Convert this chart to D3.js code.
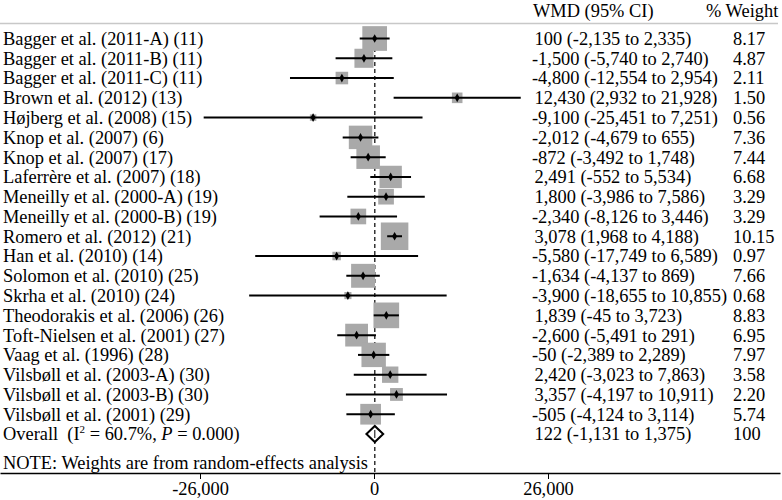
<!DOCTYPE html>
<html><head><meta charset="utf-8">
<script src="https://cdn.jsdelivr.net/npm/d3@7"></script>
<style>
html,body{margin:0;padding:0;background:#fff;}
svg text{font-family:"Liberation Serif","Times New Roman",serif;font-size:18.4px;fill:#000;}
</style></head>
<body><svg id="c" width="782" height="500"></svg>
<script>
const studies = ["Bagger et al. (2011-A) (11)","Bagger et al. (2011-B) (11)","Bagger et al. (2011-C) (11)","Brown et al. (2012) (13)","Højberg et al. (2008) (15)","Knop et al. (2007) (6)","Knop et al. (2007) (17)","Laferrère et al. (2007) (18)","Meneilly et al. (2000-A) (19)","Meneilly et al. (2000-B) (19)","Romero et al. (2012) (21)","Han et al. (2010) (14)","Solomon et al. (2010) (25)","Skrha et al. (2010) (24)","Theodorakis et al. (2006) (26)","Toft-Nielsen et al. (2001) (27)","Vaag et al. (1996) (28)","Vilsbøll et al. (2003-A) (30)","Vilsbøll et al. (2003-B) (30)","Vilsbøll et al. (2001) (29)"];
const wmd   = [100,-1500,-4800,12430,-9100,-2012,-872,2491,1800,-2340,3078,-5580,-1634,-3900,1839,-2600,-50,2420,3357,-505];
const lower = [-2135,-5740,-12554,2932,-25451,-4679,-3492,-552,-3986,-8126,1968,-17749,-4137,-18655,-45,-5491,-2389,-3023,-4197,-4124];
const upper = [2335,2740,2954,21928,7251,655,1748,5534,7586,3446,4188,6589,869,10855,3723,291,2289,7863,10911,3114];
const weights = ["8.17","4.87","2.11","1.50","0.56","7.36","7.44","6.68","3.29","3.29","10.15","0.97","7.66","0.68","8.83","6.95","7.97","3.58","2.20","5.74"];
const overall = {wmd:122, lower:-1131, upper:1375, weight:"100"};
const overallStats = {i2:"60.7%", p:"0.000"};
const tickValues = [-26000, 0, 26000];
const note = "NOTE: Weights are from random-effects analysis";

const svg = d3.select("#c");
const loc = d3.formatLocale({decimal:".", thousands:",", grouping:[3], currency:["",""], minus:"-"});
const fmt = loc.format(",");
const x = d3.scaleLinear().domain([-26000, 26000]).range([200, 548]);
const nRows = studies.length + 1;
const y = d3.scaleLinear().domain([0, nRows - 1]).range([38.5, 434]);
const boxK = 8.64;

// header
svg.append("text").attr("x", 533).attr("y", 17).text("WMD (95% CI)");
svg.append("text").attr("x", 706).attr("y", 17).text("% Weight");
svg.append("line").attr("x1", 0).attr("x2", 778).attr("y1", 23.5).attr("y2", 23.5)
  .attr("stroke", "#c8c8c8").attr("stroke-width", 1.5);

// dashed overall line
svg.append("line").attr("x1", x(overall.wmd)).attr("x2", x(overall.wmd))
  .attr("y1", 27).attr("y2", 473).attr("stroke", "#000").attr("stroke-width", 1.2)
  .attr("stroke-dasharray", "4,3");

const data = studies.map((s, i) => ({s, est: wmd[i], lo: lower[i], hi: upper[i], w: weights[i], i}));

const g = svg.append("g");
g.selectAll("rect.box").data(data).join("rect").attr("class", "box")
  .attr("x", d => x(d.est) - boxK * Math.sqrt(+d.w) / 2)
  .attr("y", d => y(d.i) - boxK * Math.sqrt(+d.w) / 2)
  .attr("width", d => boxK * Math.sqrt(+d.w))
  .attr("height", d => boxK * Math.sqrt(+d.w))
  .attr("fill", "#a9a9a9");
g.selectAll("line.ci").data(data).join("line").attr("class", "ci")
  .attr("x1", d => x(d.lo)).attr("x2", d => x(d.hi))
  .attr("y1", d => y(d.i)).attr("y2", d => y(d.i))
  .attr("stroke", "#000").attr("stroke-width", 2);
g.selectAll("path.pt").data(data).join("path").attr("class", "pt")
  .attr("d", d3.symbol(d3.symbolDiamond, 22))
  .attr("transform", d => `translate(${x(d.est)},${y(d.i)})`)
  .attr("fill", "#000");

g.selectAll("text.lab").data(data).join("text").attr("class", "lab")
  .attr("x", 3).attr("y", d => y(d.i)).attr("dy", "0.35em").text(d => d.s);
g.selectAll("text.ci").data(data).join("text").attr("class", "ci")
  .attr("x", d => d.est < 0 ? 532 : 534.5).attr("y", d => y(d.i)).attr("dy", "0.35em")
  .text(d => `${fmt(d.est)} (${fmt(d.lo)} to ${fmt(d.hi)})`);
g.selectAll("text.w").data(data).join("text").attr("class", "w")
  .attr("x", 733).attr("y", d => y(d.i)).attr("dy", "0.35em").text(d => d.w);

// overall
const oy = y(nRows - 1);
const ot = svg.append("text").attr("x", 3).attr("y", oy + 6.4).style("white-space", "pre");
ot.append("tspan").text("Overall  (I");
ot.append("tspan").attr("font-size", "11px").attr("dy", -7).text("2");
ot.append("tspan").attr("dy", 7).text(` = ${overallStats.i2}, `);
ot.append("tspan").attr("font-style", "italic").text("P");
ot.append("tspan").text(` = ${overallStats.p})`);
const dh = 8;
svg.append("path")
  .attr("d", `M${x(overall.lower)},${oy} L${x(overall.wmd)},${oy - dh} L${x(overall.upper)},${oy} L${x(overall.wmd)},${oy + dh} Z`)
  .attr("fill", "#fff").attr("stroke", "#000").attr("stroke-width", 2);
svg.append("line").attr("x1", x(overall.wmd)).attr("x2", x(overall.wmd))
  .attr("y1", oy - 4).attr("y2", oy + 4).attr("stroke", "#000").attr("stroke-width", 1);
svg.append("text").attr("x", 534.5).attr("y", oy).attr("dy", "0.35em")
  .text(`${fmt(overall.wmd)} (${fmt(overall.lower)} to ${fmt(overall.upper)})`);
svg.append("text").attr("x", 733).attr("y", oy).attr("dy", "0.35em").text(overall.weight);

// note
svg.append("text").attr("x", 3).attr("y", 463).attr("dy", "0.35em").text(note);

// axis
const xa = x.copy().domain([x.invert(0), x.invert(780)]).range([0, 780]);
const ax = svg.append("g").attr("transform", "translate(0,473)")
  .call(d3.axisBottom(xa).tickValues(tickValues).tickFormat(fmt).tickSizeOuter(0).tickSizeInner(6).tickPadding(3));
ax.select(".domain").attr("stroke", "#000").attr("stroke-width", 1.5);
ax.selectAll(".tick line").attr("stroke", "#000");
ax.selectAll(".tick text").attr("font-size", "18.4px").attr("font-family", "Liberation Serif");
</script></body></html>
